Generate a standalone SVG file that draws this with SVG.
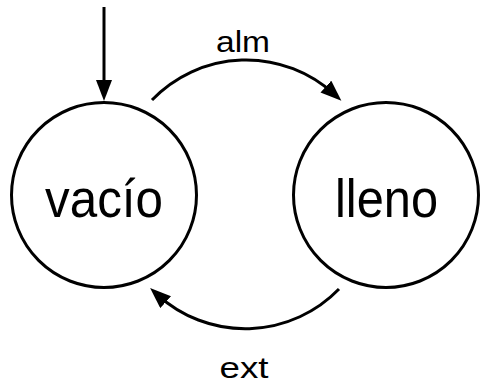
<svg xmlns="http://www.w3.org/2000/svg" width="480" height="386" viewBox="0 0 480 386">
  <defs>
    <style>
      .state { fill: #ffffff; stroke: #000000; stroke-width: 3; }
      .edge { fill: none; stroke: #000000; stroke-width: 3; }
      .name { font-family: "Liberation Sans", Arial, sans-serif; font-size: 54px; text-anchor: middle; fill: #000000; }
      .label { font-family: "Liberation Sans", Arial, sans-serif; font-size: 30px; text-anchor: middle; fill: #000000; }
    </style>
    <marker id="arrow" markerUnits="userSpaceOnUse" markerWidth="22" markerHeight="18" refX="11" refY="8" orient="auto">
      <path d="M0,0 L21,8 L0,16 Z" fill="#000000"/>
    </marker>
  </defs>

  <rect width="480" height="386" fill="#ffffff"/>

  <!-- transitions -->
  <g id="connectors">
    <path id="start" class="edge" d="M104,7 L104,91" marker-end="url(#arrow)"/>
    <path id="alm-edge" class="edge" d="M152,100 A130.5,130.5 0 0 1 334,94" marker-end="url(#arrow)"/>
    <path id="ext-edge" class="edge" d="M339,289 A130.5,130.5 0 0 1 157.5,294.8" marker-end="url(#arrow)"/>
    <text class="label" x="243" y="52" textLength="54" lengthAdjust="spacingAndGlyphs">alm</text>
    <text class="label" x="244" y="378" textLength="49" lengthAdjust="spacingAndGlyphs">ext</text>
  </g>

  <!-- states -->
  <g id="vacio">
    <circle class="state" cx="104" cy="195" r="92.5"/>
    <text class="name" x="104" y="217" textLength="118" lengthAdjust="spacingAndGlyphs">vacío</text>
  </g>
  <g id="lleno">
    <circle class="state" cx="386" cy="195" r="92.5"/>
    <text class="name" x="386.5" y="217" textLength="103" lengthAdjust="spacingAndGlyphs">lleno</text>
  </g>
</svg>
